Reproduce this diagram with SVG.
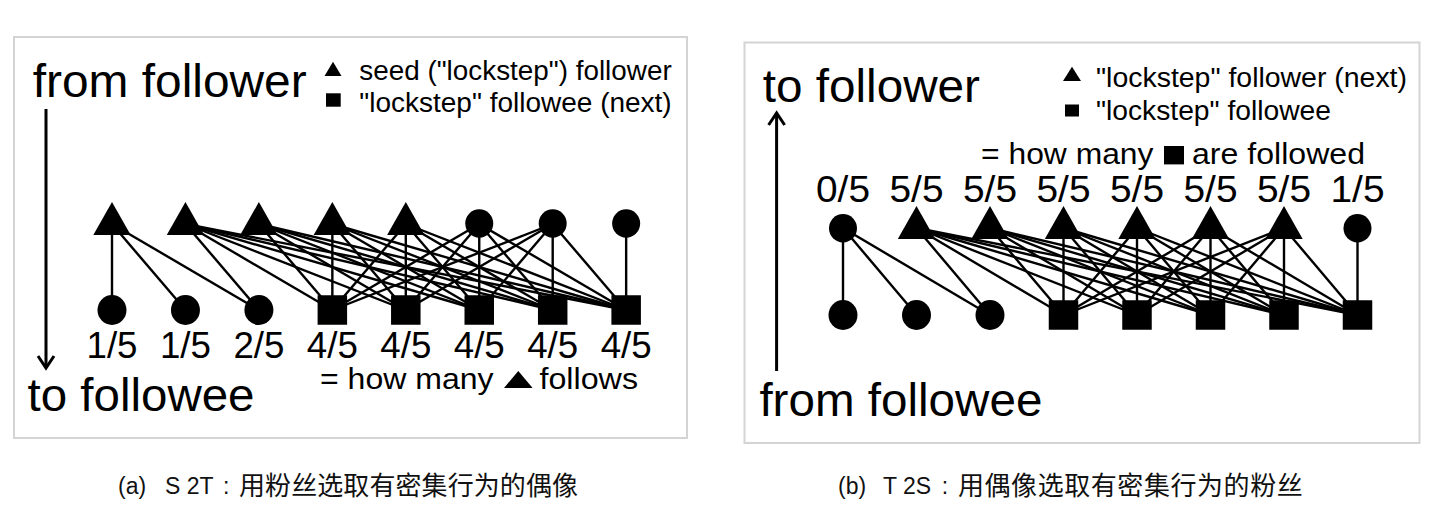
<svg xmlns="http://www.w3.org/2000/svg" xmlns:xlink="http://www.w3.org/1999/xlink" width="1440" height="524" viewBox="0 0 1440 524">
<style>
.txt{font-family:"Liberation Sans",Arial,sans-serif;fill:#000}
.big{font-size:46px}
.leg{font-size:27px}
.mid{font-size:30px}
.frac{font-size:36px;text-anchor:middle}
.cap{font-family:"Liberation Sans","Noto Sans CJK SC",sans-serif;font-size:23px;fill:#111}
.cjk{font-family:"Noto Sans CJK SC",sans-serif;font-size:26px;fill:#111}
.panel{fill:#fff;stroke:#d4d4d4;stroke-width:2}
.edges line{stroke:#000;stroke-width:2.4}
.axis{stroke:#000;stroke-width:3;fill:none}
.shape{fill:#000}
</style>
<defs>
<polygon id="tri" points="0,-22 18.7,11 -18.7,11"/>
<ellipse id="dotT" rx="14" ry="14.2"/>
<ellipse id="dotB" rx="14.5" ry="15"/>
<rect id="sq" x="-14.75" y="-14.75" width="29.5" height="29.5"/>
<marker id="chev" markerUnits="userSpaceOnUse" viewBox="-14 -10 16 20" markerWidth="16" markerHeight="20" refX="0" refY="0" orient="auto" overflow="visible">
<path d="M-12,-8 L0,0 L-12,8" fill="none" stroke="#000" stroke-width="3"/>
</marker>
</defs>
<rect width="1440" height="524" fill="#fff"/>

<rect class="panel" x="14" y="37" width="673" height="401"/>
<rect class="panel" x="744.5" y="42.5" width="675" height="400.5"/>

<g id="a-labels">
<text class="txt big" x="32.7" y="96.7" textLength="274" lengthAdjust="spacingAndGlyphs">from follower</text>
<text class="txt big" x="27.5" y="410.5" textLength="227" lengthAdjust="spacingAndGlyphs">to followee</text>
<polygon class="shape" points="333,61.7 341.5,76 324.5,76"/>
<rect class="shape" x="326" y="93.3" width="14.7" height="13.4"/>
<text class="txt leg" x="359.3" y="80" textLength="312.4" lengthAdjust="spacingAndGlyphs">seed ("lockstep") follower</text>
<text class="txt leg" x="359.3" y="111.7" textLength="312.4" lengthAdjust="spacingAndGlyphs">"lockstep" followee (next)</text>
<text class="txt mid" x="320" y="389" textLength="173.6" lengthAdjust="spacingAndGlyphs">= how many</text>
<polygon class="shape" points="518.3,371 532.6,388 504,388"/>
<text class="txt mid" x="539.5" y="389" textLength="98.5" lengthAdjust="spacingAndGlyphs">follows</text>
<text class="txt frac" x="112" y="358" textLength="51" lengthAdjust="spacingAndGlyphs">1/5</text>
<text class="txt frac" x="185.45" y="358" textLength="51" lengthAdjust="spacingAndGlyphs">1/5</text>
<text class="txt frac" x="258.9" y="358" textLength="51" lengthAdjust="spacingAndGlyphs">2/5</text>
<text class="txt frac" x="332.35" y="358" textLength="51" lengthAdjust="spacingAndGlyphs">4/5</text>
<text class="txt frac" x="405.8" y="358" textLength="51" lengthAdjust="spacingAndGlyphs">4/5</text>
<text class="txt frac" x="479.25" y="358" textLength="51" lengthAdjust="spacingAndGlyphs">4/5</text>
<text class="txt frac" x="552.7" y="358" textLength="51" lengthAdjust="spacingAndGlyphs">4/5</text>
<text class="txt frac" x="626.15" y="358" textLength="51" lengthAdjust="spacingAndGlyphs">4/5</text>
</g>

<g id="a-axis">
<line class="axis" x1="46" y1="109" x2="46" y2="368" marker-end="url(#chev)"/>
</g>

<g id="a-edges" class="edges">
<line x1="112" y1="224" x2="112" y2="310"/>
<line x1="112" y1="224" x2="185.45" y2="310"/>
<line x1="112" y1="224" x2="258.9" y2="310"/>
<line x1="185.45" y1="224" x2="258.9" y2="310"/>
<line x1="185.45" y1="224" x2="332.35" y2="310"/>
<line x1="185.45" y1="224" x2="405.8" y2="310"/>
<line x1="185.45" y1="224" x2="479.25" y2="310"/>
<line x1="185.45" y1="224" x2="552.7" y2="310"/>
<line x1="185.45" y1="224" x2="626.15" y2="310"/>
<line x1="258.9" y1="224" x2="332.35" y2="310"/>
<line x1="258.9" y1="224" x2="405.8" y2="310"/>
<line x1="258.9" y1="224" x2="479.25" y2="310"/>
<line x1="258.9" y1="224" x2="552.7" y2="310"/>
<line x1="258.9" y1="224" x2="626.15" y2="310"/>
<line x1="332.35" y1="224" x2="332.35" y2="310"/>
<line x1="332.35" y1="224" x2="405.8" y2="310"/>
<line x1="332.35" y1="224" x2="479.25" y2="310"/>
<line x1="332.35" y1="224" x2="552.7" y2="310"/>
<line x1="332.35" y1="224" x2="626.15" y2="310"/>
<line x1="405.8" y1="224" x2="332.35" y2="310"/>
<line x1="405.8" y1="224" x2="405.8" y2="310"/>
<line x1="405.8" y1="224" x2="479.25" y2="310"/>
<line x1="405.8" y1="224" x2="552.7" y2="310"/>
<line x1="405.8" y1="224" x2="626.15" y2="310"/>
<line x1="479.25" y1="224" x2="332.35" y2="310"/>
<line x1="479.25" y1="224" x2="405.8" y2="310"/>
<line x1="479.25" y1="224" x2="479.25" y2="310"/>
<line x1="479.25" y1="224" x2="552.7" y2="310"/>
<line x1="479.25" y1="224" x2="626.15" y2="310"/>
<line x1="552.7" y1="224" x2="332.35" y2="310"/>
<line x1="552.7" y1="224" x2="405.8" y2="310"/>
<line x1="552.7" y1="224" x2="479.25" y2="310"/>
<line x1="552.7" y1="224" x2="552.7" y2="310"/>
<line x1="552.7" y1="224" x2="626.15" y2="310"/>
<line x1="626.15" y1="224" x2="626.15" y2="310"/>
</g>

<g id="a-t1"><use xlink:href="#tri" href="#tri" x="112" y="224"/></g>
<g id="a-t2"><use xlink:href="#tri" href="#tri" x="185.45" y="224"/></g>
<g id="a-t3"><use xlink:href="#tri" href="#tri" x="258.9" y="224"/></g>
<g id="a-t4"><use xlink:href="#tri" href="#tri" x="332.35" y="224"/></g>
<g id="a-t5"><use xlink:href="#tri" href="#tri" x="405.8" y="224"/></g>
<g id="a-t6"><use xlink:href="#dotT" href="#dotT" x="479.25" y="223.5"/></g>
<g id="a-t7"><use xlink:href="#dotT" href="#dotT" x="552.7" y="223.5"/></g>
<g id="a-t8"><use xlink:href="#dotT" href="#dotT" x="626.15" y="223.5"/></g>
<g id="a-b1"><use xlink:href="#dotB" href="#dotB" x="112" y="310"/></g>
<g id="a-b2"><use xlink:href="#dotB" href="#dotB" x="185.45" y="310"/></g>
<g id="a-b3"><use xlink:href="#dotB" href="#dotB" x="258.9" y="310"/></g>
<g id="a-b4"><use xlink:href="#sq" href="#sq" x="332.35" y="310"/></g>
<g id="a-b5"><use xlink:href="#sq" href="#sq" x="405.8" y="310"/></g>
<g id="a-b6"><use xlink:href="#sq" href="#sq" x="479.25" y="310"/></g>
<g id="a-b7"><use xlink:href="#sq" href="#sq" x="552.7" y="310"/></g>
<g id="a-b8"><use xlink:href="#sq" href="#sq" x="626.15" y="310"/></g>

<g id="b-labels">
<text class="txt big" x="762.7" y="101.7" textLength="217.3" lengthAdjust="spacingAndGlyphs">to follower</text>
<text class="txt big" x="759.4" y="415.6" textLength="283" lengthAdjust="spacingAndGlyphs">from followee</text>
<polygon class="shape" points="1072,66.8 1081,81 1063,81"/>
<rect class="shape" x="1065" y="104.5" width="14" height="12"/>
<text class="txt leg" x="1096" y="86.7" textLength="311" lengthAdjust="spacingAndGlyphs">"lockstep" follower (next)</text>
<text class="txt leg" x="1096" y="119.7" textLength="235" lengthAdjust="spacingAndGlyphs">"lockstep" followee</text>
<text class="txt mid" x="981" y="164.4" textLength="172.5" lengthAdjust="spacingAndGlyphs">= how many</text>
<rect class="shape" x="1164" y="146" width="20" height="18.4"/>
<text class="txt mid" x="1192" y="164.4" textLength="173" lengthAdjust="spacingAndGlyphs">are followed</text>
<text class="txt frac" x="843" y="202.4" textLength="54" lengthAdjust="spacingAndGlyphs">0/5</text>
<text class="txt frac" x="916.5" y="202.4" textLength="54" lengthAdjust="spacingAndGlyphs">5/5</text>
<text class="txt frac" x="990" y="202.4" textLength="54" lengthAdjust="spacingAndGlyphs">5/5</text>
<text class="txt frac" x="1063.5" y="202.4" textLength="54" lengthAdjust="spacingAndGlyphs">5/5</text>
<text class="txt frac" x="1137" y="202.4" textLength="54" lengthAdjust="spacingAndGlyphs">5/5</text>
<text class="txt frac" x="1210.5" y="202.4" textLength="54" lengthAdjust="spacingAndGlyphs">5/5</text>
<text class="txt frac" x="1284" y="202.4" textLength="54" lengthAdjust="spacingAndGlyphs">5/5</text>
<text class="txt frac" x="1357.5" y="202.4" textLength="54" lengthAdjust="spacingAndGlyphs">1/5</text>
</g>

<g id="b-axis">
<line class="axis" x1="776.6" y1="371" x2="776.6" y2="113" marker-end="url(#chev)"/>
</g>

<g id="b-edges" class="edges">
<line x1="843" y1="228" x2="843" y2="315"/>
<line x1="843" y1="228" x2="916.5" y2="315"/>
<line x1="843" y1="228" x2="990" y2="315"/>
<line x1="916.5" y1="228" x2="990" y2="315"/>
<line x1="916.5" y1="228" x2="1063.5" y2="315"/>
<line x1="916.5" y1="228" x2="1137" y2="315"/>
<line x1="916.5" y1="228" x2="1210.5" y2="315"/>
<line x1="916.5" y1="228" x2="1284" y2="315"/>
<line x1="916.5" y1="228" x2="1357.5" y2="315"/>
<line x1="990" y1="228" x2="1063.5" y2="315"/>
<line x1="990" y1="228" x2="1137" y2="315"/>
<line x1="990" y1="228" x2="1210.5" y2="315"/>
<line x1="990" y1="228" x2="1284" y2="315"/>
<line x1="990" y1="228" x2="1357.5" y2="315"/>
<line x1="1063.5" y1="228" x2="1063.5" y2="315"/>
<line x1="1063.5" y1="228" x2="1137" y2="315"/>
<line x1="1063.5" y1="228" x2="1210.5" y2="315"/>
<line x1="1063.5" y1="228" x2="1284" y2="315"/>
<line x1="1063.5" y1="228" x2="1357.5" y2="315"/>
<line x1="1137" y1="228" x2="1063.5" y2="315"/>
<line x1="1137" y1="228" x2="1137" y2="315"/>
<line x1="1137" y1="228" x2="1210.5" y2="315"/>
<line x1="1137" y1="228" x2="1284" y2="315"/>
<line x1="1137" y1="228" x2="1357.5" y2="315"/>
<line x1="1210.5" y1="228" x2="1063.5" y2="315"/>
<line x1="1210.5" y1="228" x2="1137" y2="315"/>
<line x1="1210.5" y1="228" x2="1210.5" y2="315"/>
<line x1="1210.5" y1="228" x2="1284" y2="315"/>
<line x1="1210.5" y1="228" x2="1357.5" y2="315"/>
<line x1="1284" y1="228" x2="1063.5" y2="315"/>
<line x1="1284" y1="228" x2="1137" y2="315"/>
<line x1="1284" y1="228" x2="1210.5" y2="315"/>
<line x1="1284" y1="228" x2="1284" y2="315"/>
<line x1="1284" y1="228" x2="1357.5" y2="315"/>
<line x1="1357.5" y1="228" x2="1357.5" y2="315"/>
</g>

<g id="b-t1"><use xlink:href="#dotT" href="#dotT" x="843" y="228.3"/></g>
<g id="b-t2"><use xlink:href="#tri" href="#tri" x="916.5" y="228"/></g>
<g id="b-t3"><use xlink:href="#tri" href="#tri" x="990" y="228"/></g>
<g id="b-t4"><use xlink:href="#tri" href="#tri" x="1063.5" y="228"/></g>
<g id="b-t5"><use xlink:href="#tri" href="#tri" x="1137" y="228"/></g>
<g id="b-t6"><use xlink:href="#tri" href="#tri" x="1210.5" y="228"/></g>
<g id="b-t7"><use xlink:href="#tri" href="#tri" x="1284" y="228"/></g>
<g id="b-t8"><use xlink:href="#dotT" href="#dotT" x="1357.5" y="228.3"/></g>
<g id="b-b1"><use xlink:href="#dotB" href="#dotB" x="843" y="315"/></g>
<g id="b-b2"><use xlink:href="#dotB" href="#dotB" x="916.5" y="315"/></g>
<g id="b-b3"><use xlink:href="#dotB" href="#dotB" x="990" y="315"/></g>
<g id="b-b4"><use xlink:href="#sq" href="#sq" x="1063.5" y="315"/></g>
<g id="b-b5"><use xlink:href="#sq" href="#sq" x="1137" y="315"/></g>
<g id="b-b6"><use xlink:href="#sq" href="#sq" x="1210.5" y="315"/></g>
<g id="b-b7"><use xlink:href="#sq" href="#sq" x="1284" y="315"/></g>
<g id="b-b8"><use xlink:href="#sq" href="#sq" x="1357.5" y="315"/></g>

<g id="caption-a">
<text class="cap" x="118" y="494">(a)</text>
<text class="cap" x="165" y="494">S 2T</text>
<text class="cap" x="223" y="494">:</text>
<text class="cjk" x="239" y="495" textLength="339" lengthAdjust="spacing">用粉丝选取有密集行为的偶像</text>
</g>
<g id="caption-b">
<text class="cap" x="838" y="494">(b)</text>
<text class="cap" x="883" y="494">T 2S</text>
<text class="cap" x="941.7" y="494">:</text>
<text class="cjk" x="958" y="495" textLength="344.7" lengthAdjust="spacing">用偶像选取有密集行为的粉丝</text>
</g>
</svg>
